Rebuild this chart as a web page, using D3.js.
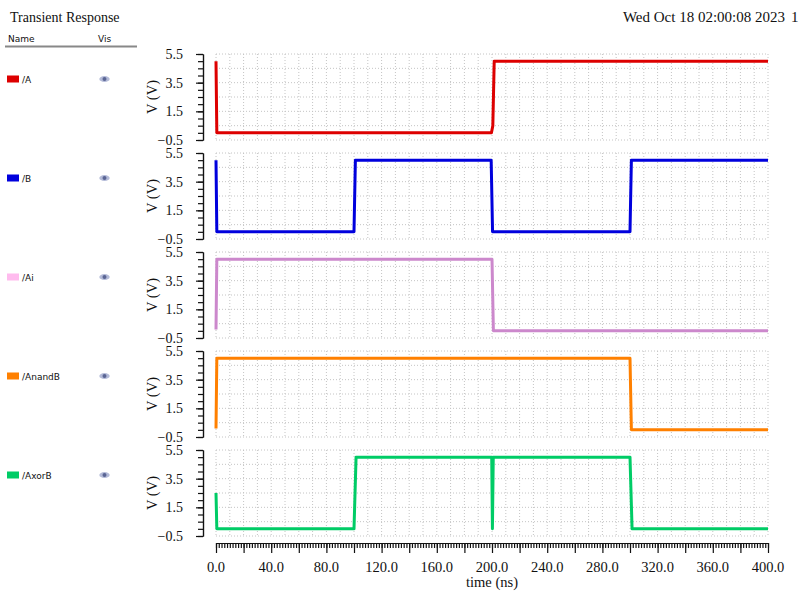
<!DOCTYPE html>
<html>
<head>
<meta charset="utf-8">
<script src="https://cdn.jsdelivr.net/npm/d3@7"></script>
<style>
  body { margin: 0; background: #fff; }
  svg { display: block; }
  .serif { font-family: "Liberation Serif", "DejaVu Serif", serif; fill: #111; }
  .sans { font-family: "DejaVu Sans", "Liberation Sans", sans-serif; fill: #111; }
</style>
</head>
<body>
<svg id="chart" width="800" height="600"></svg>
<script>
// signal names, colours
var signals = ["/A", "/B", "/Ai", "/AnandB", "/AxorB"];
var lineColors = ["#dd0000", "#0000dd", "#cc88cc", "#ff8000", "#00cc66"];
var swatchColors = ["#dd0000", "#0000dd", "#ffbbee", "#ff8000", "#00cc66"];

// waveform samples: time (ns) / voltage (V)
var tA      = [0, 0.6, 199.6, 200.6, 201.6, 400];
var vA      = [5.0, 0.0, 0.0, 0.5, 5.0, 5.0];
var tB      = [0, 0.6, 100, 101, 199.4, 200.4, 300, 301, 400];
var vB      = [5.0, 0.0, 0.0, 5.0, 5.0, 0.0, 0.0, 5.0, 5.0];
var tAi     = [0, 0.6, 200, 201, 400];
var vAi     = [0.1, 5.0, 5.0, 0.0, 0.0];
var tAnandB = [0, 0.6, 300, 301, 400];
var vAnandB = [0.1, 5.0, 5.0, 0.0, 0.0];
var tAxorB  = [0, 0.6, 100, 101.5, 199.8, 200.3, 200.9, 300, 301.5, 400];
var vAxorB  = [2.5, 0.0, 0.0, 5.0, 5.0, 0.0, 5.0, 5.0, 0.0, 0.0];

var times = [tA, tB, tAi, tAnandB, tAxorB];
var volts = [vA, vB, vAi, vAnandB, vAxorB];

var yMajor = [-0.5, 1.5, 3.5, 5.5];
var xLabels = [0, 40, 80, 120, 160, 200, 240, 280, 320, 360, 400];

// layout
var plotLeft = 216, plotRight = 768;
var panelTop = 54, panelH = 86, panelStep = 99;
var axisX = 203;

var svg = d3.select("#chart");

var x = d3.scaleLinear().domain([0, 400]).range([plotLeft, plotRight]);

// header
svg.append("text").attr("class", "serif")
    .attr("x", 10).attr("y", 22)
    .style("font-size", "14px")
    .text("Transient Response");
svg.append("text").attr("class", "serif")
    .attr("x", 785).attr("y", 22)
    .attr("text-anchor", "end")
    .style("font-size", "15px")
    .text("Wed Oct 18 02:00:08 2023");
svg.append("text").attr("class", "serif")
    .attr("x", 791).attr("y", 22)
    .style("font-size", "15px")
    .text("1");

// legend header
svg.append("text").attr("class", "sans")
    .attr("x", 8).attr("y", 42)
    .style("font-size", "9px")
    .text("Name");
svg.append("text").attr("class", "sans")
    .attr("x", 98).attr("y", 42)
    .style("font-size", "9px")
    .text("Vis");
svg.append("line")
    .attr("x1", 5).attr("x2", 137)
    .attr("y1", 46.5).attr("y2", 46.5)
    .attr("stroke", "#888")
    .attr("stroke-width", 2);

var line = d3.line()
    .x(function(d) { return x(d[0]); });

signals.forEach(function(name, i) {
    var top = panelTop + i * panelStep;
    var y = d3.scaleLinear().domain([-0.5, 5.5]).range([top + panelH, top]);
    var g = svg.append("g");

    // dotted grid
    g.selectAll(".hgrid")
        .data(d3.range(-0.5, 5.6, 1))
        .enter().append("line")
        .attr("x1", plotLeft).attr("x2", plotRight)
        .attr("y1", function(d) { return y(d); })
        .attr("y2", function(d) { return y(d); })
        .attr("stroke", "#c4c4c4")
        .attr("stroke-dasharray", "1,2");
    g.selectAll(".vgrid")
        .data(d3.range(0, 401, 10))
        .enter().append("line")
        .attr("x1", function(d) { return x(d); })
        .attr("x2", function(d) { return x(d); })
        .attr("y1", top).attr("y2", top + panelH)
        .attr("stroke", "#c4c4c4")
        .attr("stroke-dasharray", "1,2");

    // y axis: minor ticks + major ticks with labels
    var minor = g.append("g")
        .attr("transform", "translate(" + axisX + ",0)")
        .call(d3.axisLeft(y).tickValues(d3.range(-0.5, 5.6, 0.5)).tickSize(5).tickSizeOuter(0).tickFormat(""));
    var major = g.append("g")
        .attr("transform", "translate(" + axisX + ",0)")
        .call(d3.axisLeft(y).tickValues(yMajor).tickSize(7).tickSizeOuter(0).tickFormat(d3.format(".1f")));
    [minor, major].forEach(function(ax) {
        ax.selectAll("path, line").attr("stroke", "#111").attr("stroke-width", 1.2);
    });
    major.selectAll("text")
        .attr("class", "serif")
        .attr("x", -20)
        .style("font-size", "14px")
        .style("font-family", "'Liberation Serif', serif")
        .attr("fill", "#111");

    // y title
    g.append("text").attr("class", "serif")
        .attr("transform", "translate(157," + (top + panelH / 2) + ") rotate(-90)")
        .attr("text-anchor", "middle")
        .style("font-size", "14.5px")
        .text("V (V)");

    // waveform
    line.y(function(d) { return y(d[1]); });
    var pts = d3.zip(times[i], volts[i]);
    g.append("path")
        .datum(pts)
        .attr("fill", "none")
        .attr("stroke", lineColors[i])
        .attr("stroke-width", 3)
        .attr("stroke-linejoin", "round")
        .attr("d", line);

    // legend entry
    var ly = 79 + i * panelStep;
    svg.append("rect")
        .attr("x", 7).attr("y", ly - 3.5)
        .attr("width", 12).attr("height", 7)
        .attr("fill", swatchColors[i]);
    svg.append("text").attr("class", "sans")
        .attr("x", 22).attr("y", ly + 3.5)
        .style("font-size", "9px")
        .text(name);
    svg.append("ellipse")
        .attr("cx", 104.5).attr("cy", ly)
        .attr("rx", 5.2).attr("ry", 3)
        .attr("fill", "#b4bbd8");
    svg.append("circle")
        .attr("cx", 104.5).attr("cy", ly)
        .attr("r", 2)
        .attr("fill", "#5a6594");
});

// x axis
var xAxisY = 543;
var xMinor = svg.append("g")
    .attr("transform", "translate(0," + xAxisY + ")")
    .call(d3.axisBottom(x).tickValues(d3.range(0, 401, 2)).tickSize(5).tickSizeOuter(0).tickFormat(""));
var xMajor = svg.append("g")
    .attr("transform", "translate(0," + xAxisY + ")")
    .call(d3.axisBottom(x).tickValues(d3.range(0, 401, 20)).tickSize(10).tickSizeOuter(0).tickFormat(""));
[xMinor, xMajor].forEach(function(ax) {
    ax.selectAll("path, line").attr("stroke", "#111").attr("stroke-width", 1.2);
});
svg.append("g").selectAll("text")
    .data(xLabels)
    .enter().append("text")
    .attr("class", "serif")
    .attr("x", function(d) { return x(d); })
    .attr("y", 572)
    .attr("text-anchor", "middle")
    .style("font-size", "14.5px")
    .text(function(d) { return d3.format(".1f")(d); });
svg.append("text").attr("class", "serif")
    .attr("x", (plotLeft + plotRight) / 2).attr("y", 587)
    .attr("text-anchor", "middle")
    .style("font-size", "14.5px")
    .text("time (ns)");
</script>
</body>
</html>
